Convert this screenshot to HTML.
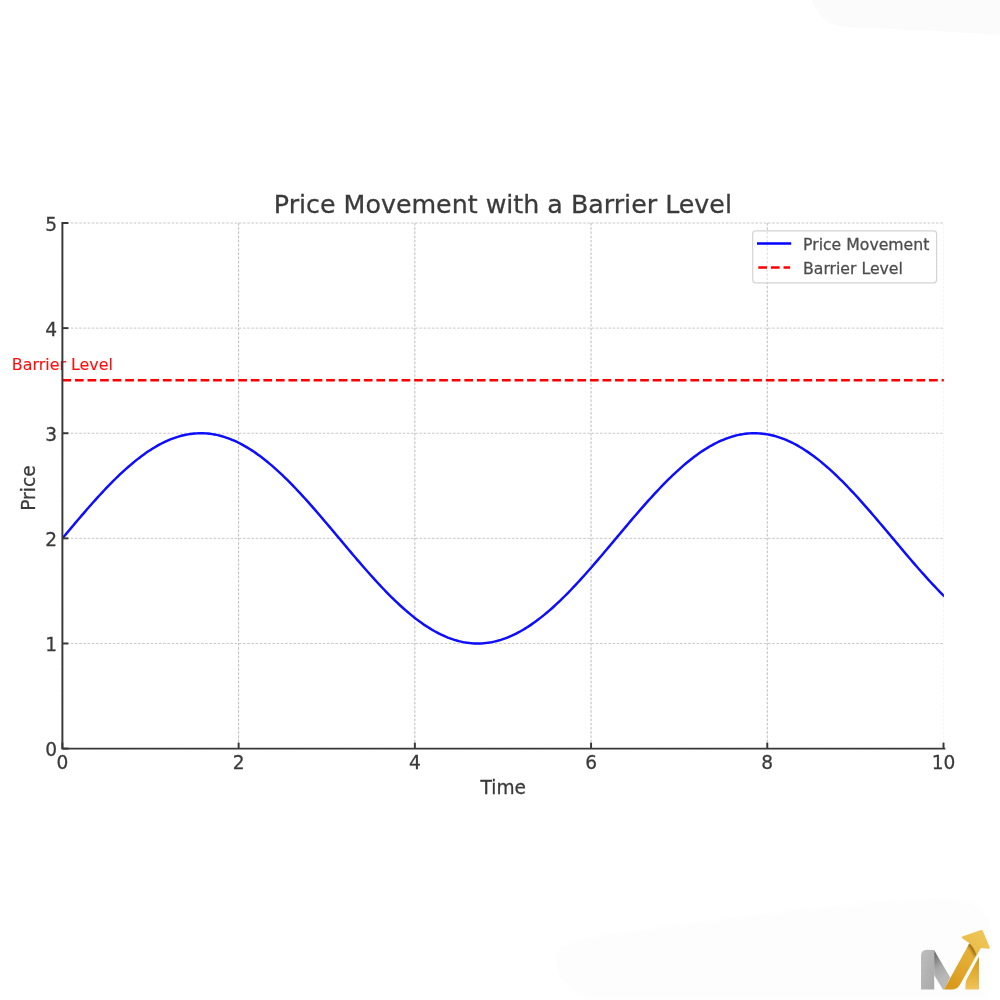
<!DOCTYPE html>
<html><head><meta charset="utf-8"><title>Price Movement with a Barrier Level</title>
<style>
html,body{margin:0;padding:0;background:#ffffff;}
body{width:1000px;height:1000px;overflow:hidden;position:relative;}
svg{position:absolute;left:0;top:0;}
text{font-family:'DejaVu Sans', 'Liberation Sans', sans-serif;stroke:currentColor;stroke-width:0.28px;}
</style></head><body>
<svg width="1000" height="1000" viewBox="0 0 1000 1000">
<defs><filter id="b" x="0" y="0" width="1000" height="1000" filterUnits="userSpaceOnUse"><feGaussianBlur stdDeviation="0.55"/></filter></defs>
<rect width="1000" height="1000" fill="#ffffff"/>
<g filter="url(#b)">
<line x1="62.40" y1="223.00" x2="62.40" y2="748.60" stroke="#b4b4b4" stroke-width="0.9" stroke-dasharray="2.6 1.6"/>
<line x1="238.62" y1="223.00" x2="238.62" y2="748.60" stroke="#b4b4b4" stroke-width="0.9" stroke-dasharray="2.6 1.6"/>
<line x1="414.84" y1="223.00" x2="414.84" y2="748.60" stroke="#b4b4b4" stroke-width="0.9" stroke-dasharray="2.6 1.6"/>
<line x1="591.06" y1="223.00" x2="591.06" y2="748.60" stroke="#b4b4b4" stroke-width="0.9" stroke-dasharray="2.6 1.6"/>
<line x1="767.28" y1="223.00" x2="767.28" y2="748.60" stroke="#b4b4b4" stroke-width="0.9" stroke-dasharray="2.6 1.6"/>
<line x1="943.50" y1="223.00" x2="943.50" y2="748.60" stroke="#b4b4b4" stroke-width="0.9" stroke-dasharray="2.6 1.6" stroke-opacity="0.15"/>
<line x1="62.40" y1="748.60" x2="943.50" y2="748.60" stroke="#c4c4c4" stroke-width="0.9" stroke-dasharray="2.6 1.6"/>
<line x1="62.40" y1="643.48" x2="943.50" y2="643.48" stroke="#c4c4c4" stroke-width="0.9" stroke-dasharray="2.6 1.6"/>
<line x1="62.40" y1="538.36" x2="943.50" y2="538.36" stroke="#c4c4c4" stroke-width="0.9" stroke-dasharray="2.6 1.6"/>
<line x1="62.40" y1="433.24" x2="943.50" y2="433.24" stroke="#c4c4c4" stroke-width="0.9" stroke-dasharray="2.6 1.6"/>
<line x1="62.40" y1="328.12" x2="943.50" y2="328.12" stroke="#c4c4c4" stroke-width="0.9" stroke-dasharray="2.6 1.6"/>
<line x1="62.40" y1="223.00" x2="943.50" y2="223.00" stroke="#c4c4c4" stroke-width="0.9" stroke-dasharray="2.6 1.6"/>
<clipPath id="cAx"><rect x="62.40" y="223.00" width="881.50" height="525.60"/></clipPath>
<polyline clip-path="url(#cAx)" points="62.40,538.36 64.60,535.73 66.81,533.11 69.01,530.48 71.21,527.87 73.41,525.25 75.62,522.65 77.82,520.06 80.02,517.48 82.22,514.91 84.43,512.35 86.63,509.81 88.83,507.29 91.04,504.79 93.24,502.31 95.44,499.86 97.64,497.42 99.85,495.02 102.05,492.64 104.25,490.28 106.45,487.96 108.66,485.67 110.86,483.42 113.06,481.19 115.27,479.00 117.47,476.85 119.67,474.74 121.87,472.67 124.08,470.64 126.28,468.65 128.48,466.71 130.69,464.81 132.89,462.95 135.09,461.14 137.29,459.39 139.50,457.68 141.70,456.02 143.90,454.41 146.10,452.85 148.31,451.35 150.51,449.90 152.71,448.51 154.92,447.18 157.12,445.90 159.32,444.68 161.52,443.51 163.73,442.41 165.93,441.37 168.13,440.38 170.33,439.46 172.54,438.60 174.74,437.81 176.94,437.07 179.15,436.40 181.35,435.79 183.55,435.25 185.75,434.77 187.96,434.36 190.16,434.01 192.36,433.72 194.57,433.50 196.77,433.35 198.97,433.26 201.17,433.24 203.38,433.28 205.58,433.39 207.78,433.57 209.98,433.81 212.19,434.12 214.39,434.49 216.59,434.92 218.80,435.42 221.00,435.99 223.20,436.62 225.40,437.31 227.61,438.07 229.81,438.88 232.01,439.77 234.21,440.71 236.42,441.71 238.62,442.77 240.82,443.90 243.03,445.08 245.23,446.32 247.43,447.62 249.63,448.97 251.84,450.39 254.04,451.85 256.24,453.37 258.44,454.94 260.65,456.57 262.85,458.25 265.05,459.97 267.26,461.75 269.46,463.57 271.66,465.44 273.86,467.36 276.07,469.32 278.27,471.32 280.47,473.36 282.68,475.45 284.88,477.57 287.08,479.74 289.28,481.94 291.49,484.17 293.69,486.44 295.89,488.74 298.09,491.07 300.30,493.43 302.50,495.82 304.70,498.24 306.91,500.68 309.11,503.15 311.31,505.63 313.51,508.14 315.72,510.67 317.92,513.21 320.12,515.77 322.32,518.34 324.53,520.93 326.73,523.53 328.93,526.13 331.14,528.75 333.34,531.36 335.54,533.99 337.74,536.62 339.95,539.24 342.15,541.87 344.35,544.50 346.55,547.12 348.76,549.73 350.96,552.34 353.16,554.94 355.37,557.53 357.57,560.11 359.77,562.67 361.97,565.22 364.18,567.75 366.38,570.27 368.58,572.76 370.78,575.23 372.99,577.68 375.19,580.11 377.39,582.51 379.60,584.88 381.80,587.22 384.00,589.53 386.20,591.81 388.41,594.06 390.61,596.27 392.81,598.44 395.02,600.58 397.22,602.68 399.42,604.74 401.62,606.75 403.83,608.73 406.03,610.66 408.23,612.54 410.43,614.38 412.64,616.17 414.84,617.92 417.04,619.61 419.25,621.25 421.45,622.84 423.65,624.38 425.85,625.86 428.06,627.29 430.26,628.66 432.46,629.98 434.66,631.24 436.87,632.44 439.07,633.58 441.27,634.67 443.48,635.69 445.68,636.65 447.88,637.55 450.08,638.39 452.29,639.17 454.49,639.88 456.69,640.53 458.89,641.12 461.10,641.64 463.30,642.10 465.50,642.49 467.71,642.82 469.91,643.08 472.11,643.28 474.31,643.41 476.52,643.47 478.72,643.47 480.92,643.41 483.13,643.27 485.33,643.08 487.53,642.81 489.73,642.49 491.94,642.09 494.14,641.64 496.34,641.11 498.54,640.53 500.75,639.88 502.95,639.16 505.15,638.39 507.36,637.55 509.56,636.64 511.76,635.68 513.96,634.66 516.17,633.57 518.37,632.43 520.57,631.23 522.77,629.97 524.98,628.65 527.18,627.28 529.38,625.85 531.59,624.36 533.79,622.83 535.99,621.24 538.19,619.59 540.40,617.90 542.60,616.16 544.80,614.37 547.00,612.53 549.21,610.64 551.41,608.71 553.61,606.74 555.82,604.72 558.02,602.66 560.22,600.56 562.42,598.42 564.63,596.25 566.83,594.04 569.03,591.79 571.24,589.51 573.44,587.20 575.64,584.86 577.84,582.49 580.05,580.09 582.25,577.66 584.45,575.21 586.65,572.74 588.86,570.25 591.06,567.73 593.26,565.20 595.47,562.65 597.67,560.09 599.87,557.51 602.07,554.92 604.28,552.32 606.48,549.71 608.68,547.09 610.88,544.47 613.09,541.85 615.29,539.22 617.49,536.59 619.70,533.97 621.90,531.34 624.10,528.72 626.30,526.11 628.51,523.50 630.71,520.91 632.91,518.32 635.12,515.75 637.32,513.19 639.52,510.64 641.72,508.12 643.93,505.61 646.13,503.12 648.33,500.66 650.53,498.22 652.74,495.80 654.94,493.41 657.14,491.05 659.35,488.72 661.55,486.42 663.75,484.15 665.95,481.92 668.16,479.72 670.36,477.55 672.56,475.43 674.76,473.34 676.97,471.30 679.17,469.30 681.37,467.34 683.58,465.42 685.78,463.55 687.98,461.73 690.18,459.96 692.39,458.23 694.59,456.55 696.79,454.93 698.99,453.36 701.20,451.84 703.40,450.37 705.60,448.96 707.81,447.61 710.01,446.31 712.21,445.07 714.41,443.89 716.62,442.76 718.82,441.70 721.02,440.70 723.23,439.76 725.43,438.88 727.63,438.06 729.83,437.30 732.04,436.61 734.24,435.98 736.44,435.42 738.64,434.92 740.85,434.48 743.05,434.11 745.25,433.81 747.46,433.57 749.66,433.39 751.86,433.28 754.06,433.24 756.27,433.26 758.47,433.35 760.67,433.50 762.87,433.72 765.08,434.01 767.28,434.36 769.48,434.77 771.69,435.25 773.89,435.80 776.09,436.41 778.29,437.08 780.50,437.81 782.70,438.61 784.90,439.47 787.10,440.39 789.31,441.38 791.51,442.42 793.71,443.52 795.92,444.69 798.12,445.91 800.32,447.19 802.52,448.52 804.73,449.92 806.93,451.37 809.13,452.87 811.34,454.42 813.54,456.03 815.74,457.69 817.94,459.40 820.15,461.16 822.35,462.97 824.55,464.82 826.75,466.72 828.96,468.67 831.16,470.66 833.36,472.69 835.57,474.76 837.77,476.87 839.97,479.02 842.17,481.21 844.38,483.44 846.58,485.69 848.78,487.98 850.98,490.31 853.19,492.66 855.39,495.04 857.59,497.45 859.80,499.88 862.00,502.34 864.20,504.82 866.40,507.32 868.61,509.84 870.81,512.38 873.01,514.93 875.21,517.50 877.42,520.08 879.62,522.67 881.82,525.28 884.03,527.89 886.23,530.51 888.43,533.13 890.63,535.76 892.84,538.38 895.04,541.01 897.24,543.64 899.45,546.26 901.65,548.88 903.85,551.49 906.05,554.09 908.26,556.69 910.46,559.27 912.66,561.84 914.86,564.39 917.07,566.93 919.27,569.45 921.47,571.95 923.68,574.43 925.88,576.88 928.08,579.32 930.28,581.72 932.49,584.10 934.69,586.46 936.89,588.78 939.09,591.07 941.30,593.32 943.50,595.55" fill="none" stroke="#0808ff" stroke-width="2.45" stroke-linejoin="round" stroke-linecap="square"/>
<line x1="62.40" y1="380.25" x2="943.80" y2="380.25" stroke="#ff0000" stroke-width="2.4" stroke-dasharray="8.7 3.86"/>
<text x="62.40" y="369.9" font-size="15.9" fill="#ff1010" color="#ff1010" style="stroke-width:0.1px" text-anchor="middle">Barrier Level</text>
<path d="M62.40,223.00 L62.40,748.60 L944.40,748.60" fill="none" stroke="#383838" stroke-width="1.95" stroke-linejoin="miter" stroke-linecap="square"/>
<line x1="62.40" y1="748.60" x2="62.40" y2="742.60" stroke="#383838" stroke-width="1.95"/>
<line x1="238.62" y1="748.60" x2="238.62" y2="742.60" stroke="#383838" stroke-width="1.95"/>
<line x1="414.84" y1="748.60" x2="414.84" y2="742.60" stroke="#383838" stroke-width="1.95"/>
<line x1="591.06" y1="748.60" x2="591.06" y2="742.60" stroke="#383838" stroke-width="1.95"/>
<line x1="767.28" y1="748.60" x2="767.28" y2="742.60" stroke="#383838" stroke-width="1.95"/>
<line x1="943.50" y1="748.60" x2="943.50" y2="742.60" stroke="#383838" stroke-width="1.95"/>
<line x1="62.40" y1="748.60" x2="68.40" y2="748.60" stroke="#383838" stroke-width="1.95"/>
<line x1="62.40" y1="643.48" x2="68.40" y2="643.48" stroke="#383838" stroke-width="1.95"/>
<line x1="62.40" y1="538.36" x2="68.40" y2="538.36" stroke="#383838" stroke-width="1.95"/>
<line x1="62.40" y1="433.24" x2="68.40" y2="433.24" stroke="#383838" stroke-width="1.95"/>
<line x1="62.40" y1="328.12" x2="68.40" y2="328.12" stroke="#383838" stroke-width="1.95"/>
<line x1="62.40" y1="223.00" x2="68.40" y2="223.00" stroke="#383838" stroke-width="1.95"/>
<text x="62.40" y="768.9" font-size="18.6" fill="#3a3a3a" color="#3a3a3a" text-anchor="middle">0</text>
<text x="238.62" y="768.9" font-size="18.6" fill="#3a3a3a" color="#3a3a3a" text-anchor="middle">2</text>
<text x="414.84" y="768.9" font-size="18.6" fill="#3a3a3a" color="#3a3a3a" text-anchor="middle">4</text>
<text x="591.06" y="768.9" font-size="18.6" fill="#3a3a3a" color="#3a3a3a" text-anchor="middle">6</text>
<text x="767.28" y="768.9" font-size="18.6" fill="#3a3a3a" color="#3a3a3a" text-anchor="middle">8</text>
<text x="943.50" y="768.9" font-size="18.6" fill="#3a3a3a" color="#3a3a3a" text-anchor="middle">10</text>
<text x="57.1" y="756.10" font-size="18.6" fill="#3a3a3a" color="#3a3a3a" text-anchor="end">0</text>
<text x="57.1" y="650.98" font-size="18.6" fill="#3a3a3a" color="#3a3a3a" text-anchor="end">1</text>
<text x="57.1" y="545.86" font-size="18.6" fill="#3a3a3a" color="#3a3a3a" text-anchor="end">2</text>
<text x="57.1" y="440.74" font-size="18.6" fill="#3a3a3a" color="#3a3a3a" text-anchor="end">3</text>
<text x="57.1" y="335.62" font-size="18.6" fill="#3a3a3a" color="#3a3a3a" text-anchor="end">4</text>
<text x="57.1" y="230.50" font-size="18.6" fill="#3a3a3a" color="#3a3a3a" text-anchor="end">5</text>
<text x="503.3" y="793.7" font-size="18.6" fill="#3a3a3a" color="#3a3a3a" text-anchor="middle">Time</text>
<text transform="translate(35.1,488.1) rotate(-90)" x="0" y="0" font-size="18.6" fill="#3a3a3a" color="#3a3a3a" text-anchor="middle">Price</text>
<text x="502.9" y="213.1" font-size="25.3" fill="#3a3a3a" color="#3a3a3a" text-anchor="middle">Price Movement with a Barrier Level</text>
<rect x="752.7" y="230.9" width="183.90" height="51.90" rx="3" ry="3" fill="#ffffff" fill-opacity="0.5" stroke="#d4d4d4" stroke-width="1.2"/>
<line x1="757.0" y1="243.5" x2="791.2" y2="243.5" stroke="#0000ff" stroke-width="2.4"/>
<line x1="758.3" y1="267.5" x2="790.1" y2="267.5" stroke="#ff0000" stroke-width="2.4" stroke-dasharray="8.75 3.85"/>
<text x="803.0" y="249.5" font-size="15.7" fill="#4d4d4d" color="#4d4d4d">Price Movement</text>
<text x="803.0" y="273.5" font-size="15.7" fill="#4d4d4d" color="#4d4d4d">Barrier Level</text>
</g>

<defs>
<linearGradient id="gStem" x1="0" y1="0" x2="1" y2="1"><stop offset="0" stop-color="#bdbdbd"/><stop offset="1" stop-color="#a9a9a9"/></linearGradient>
<linearGradient id="gDiag" x1="0" y1="0" x2="0.25" y2="0.8"><stop offset="0" stop-color="#5e5e5e"/><stop offset="0.6" stop-color="#a8a8a8"/><stop offset="1" stop-color="#b8b8b8"/></linearGradient>
<linearGradient id="gShaft" x1="0.3" y1="1" x2="0.8" y2="0"><stop offset="0" stop-color="#d9991a"/><stop offset="0.6" stop-color="#e3ac33"/><stop offset="1" stop-color="#e6b440"/></linearGradient>
<linearGradient id="gHead" x1="0" y1="1" x2="1" y2="0"><stop offset="0" stop-color="#e8b943"/><stop offset="1" stop-color="#efc85c"/></linearGradient>
<linearGradient id="gRight" x1="0" y1="0" x2="0" y2="1"><stop offset="0" stop-color="#d6980f"/><stop offset="1" stop-color="#efc45a"/></linearGradient>
<filter id="soft" x="-10%" y="-10%" width="120%" height="120%"><feGaussianBlur stdDeviation="2"/></filter>
<clipPath id="cShaft"><path d="M362,805 L680,228 L820,286 L565,742 Q535,805 470,805 Z"/></clipPath>
<filter id="bl" x="-50%" y="-50%" width="200%" height="200%"><feGaussianBlur stdDeviation="18"/></filter>
<radialGradient id="gShadow" cx="0.5" cy="0.5" r="0.5"><stop offset="0" stop-color="#a87a10" stop-opacity="0.7"/><stop offset="1" stop-color="#a87a10" stop-opacity="0"/></radialGradient>
</defs>
<path d="M811.9,0 C818,14 826,25 845,27 C900,29 960,32 1000,35.2 L1000,0 Z" fill="#fbfbfb"/>
<path d="M556,960 C552,945 575,938 640,930 C760,915 900,895 960,900 C990,905 995,925 985,945 L985,1000 L600,1000 C570,995 558,980 556,960 Z" fill="#fdfdfd" filter="url(#soft)"/>
<g transform="translate(915,925) scale(0.08)">
<path d="M75,805 L75,385 Q75,312 150,310 L240,314 L240,805 Z" fill="url(#gStem)"/>
<path d="M240,316 L440,655 L362,805 L348,805 L240,625 Z" fill="url(#gDiag)"/>
<path d="M362,805 L680,228 L820,286 L565,742 Q535,805 470,805 Z" fill="url(#gShaft)"/>
<g clip-path="url(#cShaft)"><path d="M660,212 Q735,275 772,380" stroke="#8c5e00" stroke-width="64" fill="none" opacity="0.8" filter="url(#bl)"/></g>
<path d="M585,162 Q578,150 600,142 L825,62 Q842,58 848,72 L935,280 Q940,300 918,298 L820,286 L770,378 Q735,275 672,222 Z" fill="url(#gHead)"/>
<path d="M630,805 L800,805 L800,398 L645,680 Q628,712 630,805 Z" fill="url(#gRight)"/>
</g>
</svg>
</body></html>
